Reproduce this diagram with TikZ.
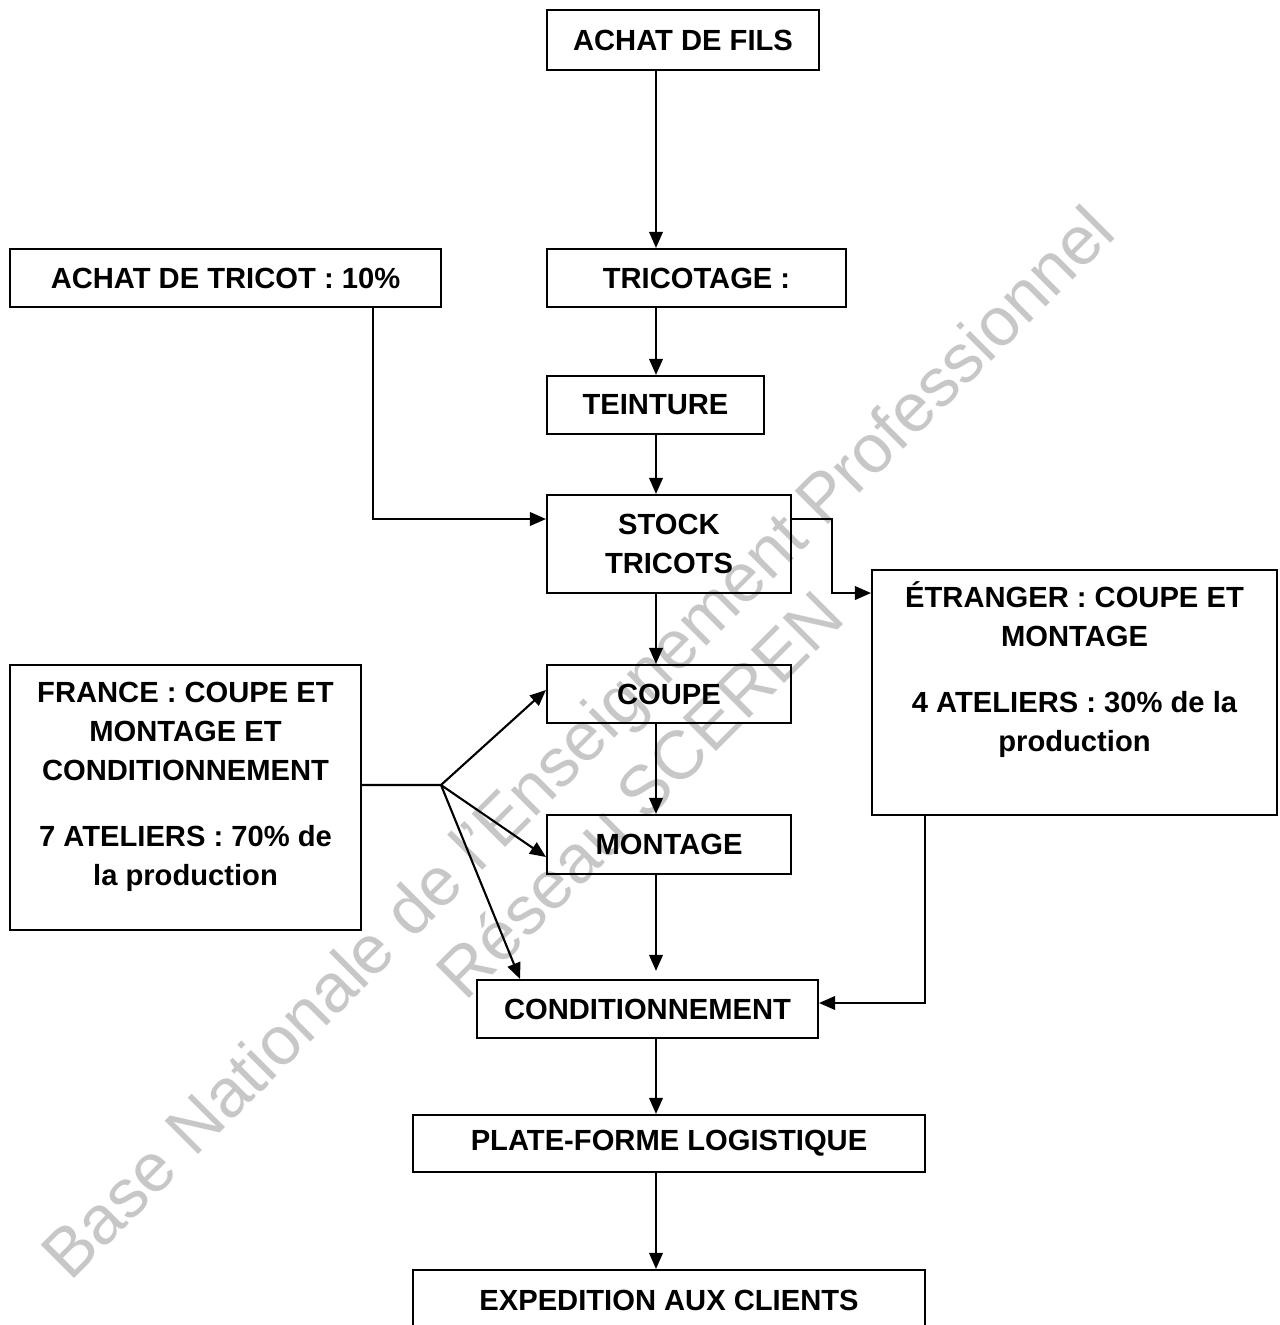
\documentclass[tikz,border=0pt]{standalone}
\usepackage{fontspec}
\setmainfont{Liberation Sans}
\usetikzlibrary{arrows.meta}

\begin{document}
\begin{tikzpicture}[x=0.02cm, y=-0.02cm,
    every node/.style={inner sep=0pt, font=\fontsize{16.6}{22.1}\selectfont\bfseries},
    etape/.style={draw, line width=1.2pt, minimum height=1.16cm},
    fleche/.style={line width=1.2pt, -{Triangle[length=0.32cm, width=0.27cm]}},
    filigrane/.style={font=\fontsize{39}{39}\selectfont, text=black!22, rotate=45, anchor=base west}]
    \useasboundingbox (0,0) rectangle (1280,1325);

    % filigrane en fond
    \node[filigrane] (fil1) at (70,1283) {Base Nationale de l'Enseignement Professionnel};
    \node[filigrane] (fil2) at (465,1003) {Réseau SCEREN};

    % etapes de la chaine
    \node[etape, minimum width=5.44cm, minimum height=1.2cm] (fils) at (683,40) {ACHAT DE FILS};
    \node[etape, minimum width=5.98cm] (tricotage) at (696.5,278) {TRICOTAGE :};
    \node[etape, minimum width=8.62cm] (achat) at (225.5,278) {ACHAT DE TRICOT : 10\%};
    \node[etape, minimum width=4.34cm] (teinture) at (655.5,405) {TEINTURE};
    \node[etape, minimum width=4.88cm, minimum height=1.96cm, align=center] (stock) at (669,544) {STOCK\\TRICOTS};
    \node[etape, minimum width=4.88cm] (coupe) at (669,694) {COUPE};
    \node[etape, minimum width=4.88cm, minimum height=1.18cm] (montage) at (669,844.5) {MONTAGE};
    \node[etape, minimum width=6.82cm] (cond) at (647.5,1009) {CONDITIONNEMENT};
    \node[etape, minimum width=10.24cm, minimum height=1.14cm] (plate) at (669,1143.5) {PLATE-FORME LOGISTIQUE};
    \node[etape, minimum width=10.24cm, minimum height=1.2cm] (expe) at (669,1300) {EXPEDITION AUX CLIENTS};

    % ateliers France et etranger
    \node[etape, minimum width=7.02cm, minimum height=5.3cm] (france) at (185.5,797.5) {};
    \node[align=center, anchor=north] (france-txt) at ([yshift=-0.36cm]france.north) {FRANCE : COUPE ET\\MONTAGE ET\\CONDITIONNEMENT\\[0.54cm]7 ATELIERS : 70\% de\\la production};
    \node[etape, minimum width=8.1cm, minimum height=4.9cm] (etranger) at (1074.5,692.5) {};
    \node[align=center, anchor=north] (etranger-txt) at ([yshift=-0.25cm]etranger.north) {ÉTRANGER : COUPE ET\\MONTAGE\\[0.54cm]4 ATELIERS : 30\% de la\\production};

    % points de passage
    \coordinate (axe) at (656,0);
    \coordinate (coude-achat) at (373,519);
    \coordinate (coude-etr) at (925,1003);
    \coordinate (fourche) at (441,785);
    \coordinate (cible-cond) at (520,0);

    % fleches principales
    \foreach \a/\b in {fils/tricotage, tricotage/teinture, teinture/stock, stock/coupe, coupe/montage, cond/plate, plate/expe} {
        \draw[fleche] (\a.south -| axe) -- (\b.north -| axe);
    }
    \draw[fleche, shorten >=0.16cm] (montage.south -| axe) -- (cond.north -| axe);

    \draw[fleche] (achat.south -| coude-achat) |- ([yshift=0.5cm]stock.west);
    \draw[fleche] ([yshift=0.5cm]stock.east) -- ++(40,0) |- ([yshift=1.99cm]etranger.west);
    \draw[fleche] (etranger.south -| coude-etr) |- ([yshift=0.12cm]cond.east);

    % repartition depuis la France
    \draw[line width=1.2pt] ([yshift=0.25cm]france.east) -- (fourche);
    \draw[fleche] (fourche) -- ([yshift=0.08cm]coupe.west);
    \draw[fleche] (fourche) -- ([yshift=-0.25cm]montage.west);
    \draw[fleche] (fourche) -- (cond.north -| cible-cond);
\end{tikzpicture}
\end{document}
